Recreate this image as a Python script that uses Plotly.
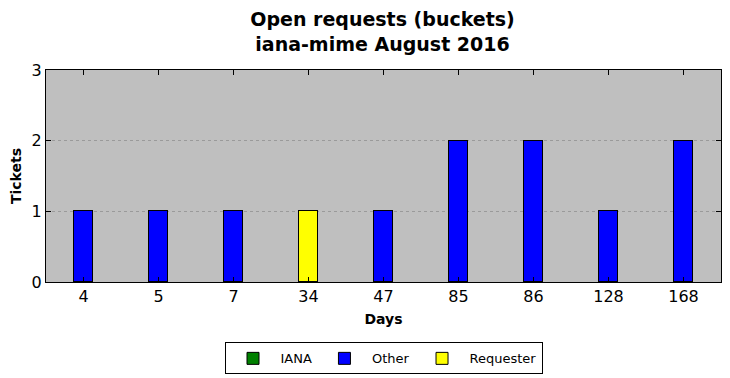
import plotly.graph_objects as go

days = ["4", "5", "7", "34", "47", "85", "86", "128", "168"]
iana = [0, 0, 0, 0, 0, 0, 0, 0, 0]
other = [1, 1, 1, 0, 1, 2, 2, 1, 2]
requester = [0, 0, 0, 1, 0, 0, 0, 0, 0]

fig = go.Figure()
line = dict(color="black", width=1)
fig.add_trace(go.Bar(x=days, y=iana, name="IANA", marker=dict(color="#008000", line=line), width=0.25))
fig.add_trace(go.Bar(x=days, y=other, name="Other", marker=dict(color="#0000ff", line=line), width=0.25))
fig.add_trace(go.Bar(x=days, y=requester, name="Requester", marker=dict(color="#ffff00", line=line), width=0.25))

fig.update_layout(
    barmode="stack",
    width=730, height=378,
    margin=dict(l=46, r=9, t=70, b=96, autoexpand=False),
    paper_bgcolor="white",
    plot_bgcolor="#bfbfbf",
    font=dict(family="DejaVu Sans", color="black"),
    title=dict(text="<b>Open requests (buckets)<br>iana-mime August 2016</b>",
               x=0.524, xanchor="center", yref="container", y=0.93, yanchor="middle",
               font=dict(size=19, family="DejaVu Sans")),
    showlegend=True,
    legend=dict(orientation="h", x=0.5, xanchor="center", y=-0.285, yanchor="top",
                bordercolor="black", borderwidth=1, font=dict(size=13),
                traceorder="normal", itemwidth=45),
    bargap=0,
)
fig.update_xaxes(
    type="category", range=[-0.5, 8.5], automargin=False,
    showline=True, linecolor="black", linewidth=1, mirror="ticks",
    ticks="inside", ticklen=5, tickcolor="black",
    tickfont=dict(size=16), showgrid=False,
    title=dict(text="<b>Days</b>", font=dict(size=14), standoff=8),
)
fig.update_yaxes(
    range=[0, 3], dtick=1, automargin=False,
    showline=True, linecolor="black", linewidth=1, mirror="ticks",
    ticks="inside", ticklen=5, tickcolor="black",
    tickfont=dict(size=16),
    showgrid=True, gridcolor="#9a9a9a", griddash="dot", gridwidth=1,
    zeroline=False,
    title=dict(text="<b>Tickets</b>", font=dict(size=14), standoff=6),
)
fig.write_html("out.html", config={"displayModeBar": False},
               post_script="document.body.style.margin='0';")
